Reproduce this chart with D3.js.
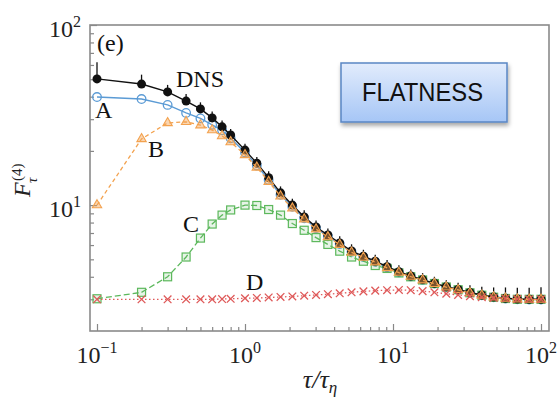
<!DOCTYPE html>
<html>
<head>
<meta charset="utf-8">
<script src="https://cdn.jsdelivr.net/npm/d3@7"></script>
<style>
  html, body { margin: 0; padding: 0; background: #fff; }
  svg { display: block; }
</style>
</head>
<body>
<svg id="chart" width="557" height="398"></svg>
<script>
// time lag tau / tau_eta
const tau = [0.1, 0.2, 0.3, 0.4, 0.5, 0.6, 0.7, 0.8, 1.0, 1.202, 1.445, 1.738, 2.089, 2.512,
  3.020, 3.631, 4.365, 5.248, 6.310, 7.586, 9.120, 10.96, 13.18, 15.85, 19.05, 22.91,
  27.54, 33.11, 39.81, 47.86, 57.54, 69.18, 83.18, 100];

// flatness F_tau^(4) for DNS and models A-D
const dns = [50.2, 47.0, 42.5, 37.8, 34.2, 30.5, 27.2, 24.5, 20.2, 17.1, 14.2, 11.7, 10.0, 8.6,
  7.56, 6.82, 6.16, 5.56, 5.2, 4.88, 4.55, 4.27, 4.04, 3.86, 3.68, 3.52, 3.40, 3.27, 3.17,
  3.09, 3.04, 3.01, 3.0, 3.0];
const dnsErr = [12, 6, 4, 3.6, 3.0, 2.6, 2.3, 2.0, 1.7, 1.4, 1.2, 1.0, 0.85, 0.75, 0.65, 0.6,
  0.55, 0.5, 0.45, 0.42, 0.4, 0.37, 0.35, 0.33, 0.32, 0.31, 0.31, 0.32, 0.35, 0.4, 0.45,
  0.47, 0.48, 0.5];
const modelA = [39.8, 38.8, 36.0, 32.5, 30.3, 27.9, 26.0, 23.5, 19.6, 16.6, 13.8, 11.4, 9.8, 8.45,
  7.45, 6.72, 6.08, 5.5, 5.15, 4.84, 4.50, 4.23, 4.02, 3.84, 3.67, 3.51, 3.39, 3.26, 3.16,
  3.08, 3.03, 3.0, 2.99, 2.99];
const modelB = [10.0, 23.3, 28.6, 29.0, 27.8, 26.1, 24.2, 22.4, 19.0, 16.2, 13.5, 11.2, 9.6, 8.35,
  7.35, 6.65, 6.03, 5.46, 5.12, 4.82, 4.48, 4.22, 4.01, 3.83, 3.66, 3.50, 3.38, 3.25, 3.15,
  3.08, 3.03, 3.0, 2.99, 2.99];
const modelC = [3.02, 3.28, 4.0, 5.15, 6.56, 7.85, 8.8, 9.4, 10.0, 9.95, 9.45, 8.8, 7.9, 7.25,
  6.6, 6.05, 5.55, 5.15, 4.88, 4.62, 4.45, 4.2, 4.0, 3.84, 3.67, 3.51, 3.39, 3.26, 3.16,
  3.08, 3.03, 3.0, 3.0, 3.0];
const modelD = [3.0, 3.0, 3.0, 3.0, 3.0, 3.0, 3.01, 3.02, 3.04, 3.05, 3.07, 3.09, 3.11, 3.14,
  3.17, 3.2, 3.24, 3.28, 3.32, 3.35, 3.37, 3.38, 3.37, 3.33, 3.28, 3.22, 3.17, 3.12, 3.08,
  3.05, 3.03, 3.01, 3.0, 3.0];

// axis ticks
const xMajorExp = [-1, 0, 1, 2];
const yMajorExp = [1, 2];
const xMinor = [0.2, 0.3, 0.4, 0.5, 0.6, 0.7, 0.8, 0.9, 2, 3, 4, 5, 6, 7, 8, 9,
  20, 30, 40, 50, 60, 70, 80, 90];
const yMinor = [3, 4, 5, 6, 7, 8, 9, 20, 30, 40, 50, 60, 70, 80, 90];

const svg = d3.select("#chart");
const frame = { left: 90, right: 549, top: 25, bottom: 331 };

const x = d3.scaleLog().domain([0.1, 100]).range([97, 541]);
const y = d3.scaleLog().domain([2, 100]).range([frame.bottom, frame.top]);

const serif = "'Liberation Serif', 'Times New Roman', serif";

// defs: box gradient and shadow
const defs = svg.append("defs");
const grad = defs.append("linearGradient").attr("id", "boxFill")
  .attr("x1", 0).attr("y1", 0).attr("x2", 0).attr("y2", 1);
grad.append("stop").attr("offset", "0%").attr("stop-color", "#e2ecfc");
grad.append("stop").attr("offset", "100%").attr("stop-color", "#a6c6f6");
const shadow = defs.append("filter").attr("id", "shadow")
  .attr("x", "-20%").attr("y", "-20%").attr("width", "140%").attr("height", "160%");
shadow.append("feDropShadow").attr("dx", 1).attr("dy", 3).attr("stdDeviation", 2)
  .attr("flood-color", "#000").attr("flood-opacity", 0.35);

// axes: ticks point inward
const tickStroke = "#888";
const xAxisMinor = d3.axisBottom(x).tickValues(xMinor).tickSize(-4).tickFormat("");
const xAxisMajor = d3.axisBottom(x).tickValues(xMajorExp.map(e => Math.pow(10, e))).tickSize(-7).tickFormat("");
const yAxisMinor = d3.axisLeft(y).tickValues(yMinor).tickSize(-4).tickFormat("");
const yAxisMajor = d3.axisLeft(y).tickValues(yMajorExp.map(e => Math.pow(10, e))).tickSize(-7).tickFormat("");

[xAxisMinor, xAxisMajor].forEach(ax => {
  const g = svg.append("g").attr("transform", `translate(0,${frame.bottom})`).call(ax);
  g.select(".domain").remove();
  g.selectAll("line").attr("stroke", tickStroke).attr("stroke-width", 1.2);
});
[yAxisMinor, yAxisMajor].forEach(ax => {
  const g = svg.append("g").attr("transform", `translate(${frame.left},0)`).call(ax);
  g.select(".domain").remove();
  g.selectAll("line").attr("stroke", tickStroke).attr("stroke-width", 1.2);
});

// frame
svg.append("rect")
  .attr("x", frame.left).attr("y", frame.top)
  .attr("width", frame.right - frame.left).attr("height", frame.bottom - frame.top)
  .attr("fill", "none").attr("stroke", "#8a8a8a").attr("stroke-width", 1.6);

// tick labels 10^n
xMajorExp.forEach(e => {
  const t = svg.append("text")
    .attr("x", x(Math.pow(10, e))).attr("y", 363)
    .attr("text-anchor", "middle")
    .attr("font-family", serif).attr("font-size", 24).attr("fill", "#222");
  t.append("tspan").text("10");
  t.append("tspan").attr("dy", -10).attr("font-size", 16).text(e < 0 ? "\u2212" + (-e) : String(e));
});
yMajorExp.forEach(e => {
  const t = svg.append("text")
    .attr("x", 81).attr("y", y(Math.pow(10, e)) + 12)
    .attr("text-anchor", "end")
    .attr("font-family", serif).attr("font-size", 24).attr("fill", "#222");
  t.append("tspan").text("10");
  t.append("tspan").attr("dy", -10).attr("font-size", 16).text(String(e));
});

// axis titles
const yTitle = svg.append("g").attr("transform", "translate(30,197) rotate(-90)");
yTitle.append("text").attr("x", 0).attr("y", 0)
  .attr("font-family", serif).attr("font-style", "italic").attr("font-size", 24)
  .attr("fill", "#222").text("F");
yTitle.append("text").attr("x", 14).attr("y", 7)
  .attr("font-family", serif).attr("font-style", "italic").attr("font-size", 15)
  .attr("fill", "#222").text("\u03c4");
yTitle.append("text").attr("x", 16).attr("y", -8)
  .attr("font-family", serif).attr("font-size", 15)
  .attr("fill", "#222").text("(4)");

const xTitle = svg.append("text").attr("x", 320).attr("y", 388)
  .attr("text-anchor", "middle")
  .attr("font-family", serif).attr("font-style", "italic").attr("font-size", 26).attr("fill", "#222");
xTitle.append("tspan").text("\u03c4/\u03c4");
xTitle.append("tspan").attr("dy", 5).attr("font-size", 17).text("\u03b7");

// series
const rows = tau.map((t, i) => ({ t, dns: dns[i], err: dnsErr[i], a: modelA[i], b: modelB[i], c: modelC[i], d: modelD[i] }));

function drawLine(key, color, dash, width) {
  svg.append("path").datum(rows)
    .attr("fill", "none").attr("stroke", color).attr("stroke-width", width)
    .attr("stroke-dasharray", dash)
    .attr("d", d3.line().x(r => x(r.t)).y(r => y(r[key])));
}

const cA = "#5b9bd5", cB = "#f3a24f", cC = "#5cb85c", cD = "#df5a5a";

// model A: blue open circles
drawLine("a", cA, null, 1.4);
svg.append("g").selectAll("circle").data(rows).join("circle")
  .attr("cx", r => x(r.t)).attr("cy", r => y(r.a)).attr("r", 4.3)
  .attr("fill", "none").attr("stroke", cA).attr("stroke-width", 1.3);

// model C: green squares, dashed
drawLine("c", cC, "6,3", 1.3);
svg.append("g").selectAll("rect").data(rows).join("rect")
  .attr("x", r => x(r.t) - 4).attr("y", r => y(r.c) - 4).attr("width", 8).attr("height", 8)
  .attr("fill", "rgba(92,184,92,0.15)").attr("stroke", cC).attr("stroke-width", 1.2);

// DNS: black filled circles with upper error bars
drawLine("dns", "#111", null, 1.4);
svg.append("g").selectAll("line").data(rows).join("line")
  .attr("x1", r => x(r.t)).attr("x2", r => x(r.t))
  .attr("y1", r => y(r.dns)).attr("y2", r => y(r.dns + r.err))
  .attr("stroke", "#111").attr("stroke-width", 1.3);
svg.append("g").selectAll("circle").data(rows).join("circle")
  .attr("cx", r => x(r.t)).attr("cy", r => y(r.dns)).attr("r", 4.5)
  .attr("fill", "#111");

// model B: orange triangles, dashed
drawLine("b", cB, "4,3", 1.3);
const tri = d3.symbol().type(d3.symbolTriangle).size(38);
svg.append("g").selectAll("path").data(rows).join("path")
  .attr("transform", r => `translate(${x(r.t)},${y(r.b)})`)
  .attr("d", tri)
  .attr("fill", "rgba(243,162,79,0.45)").attr("stroke", cB).attr("stroke-width", 1.1);

// model D: red crosses, dotted
drawLine("d", cD, "1.5,2.5", 1.3);
const cross = d3.symbol().type(d3.symbolX).size(40);
svg.append("g").selectAll("path").data(rows).join("path")
  .attr("transform", r => `translate(${x(r.t)},${y(r.d)})`)
  .attr("d", cross)
  .attr("fill", "none").attr("stroke", cD).attr("stroke-width", 1.3);

// annotations
const ann = [
  { text: "(e)", x: 97, y: 51 },
  { text: "DNS", x: 176, y: 87 },
  { text: "A", x: 95, y: 118 },
  { text: "B", x: 148, y: 157 },
  { text: "C", x: 183, y: 232 },
  { text: "D", x: 246, y: 290 }
];
svg.append("g").selectAll("text").data(ann).join("text")
  .attr("x", d => d.x).attr("y", d => d.y)
  .attr("font-family", serif).attr("font-size", 24).attr("fill", "#111")
  .text(d => d.text);

// FLATNESS label box
svg.append("rect")
  .attr("x", 341).attr("y", 63).attr("width", 166).attr("height", 59)
  .attr("fill", "url(#boxFill)").attr("stroke", "#5a86c4").attr("stroke-width", 1.5)
  .attr("filter", "url(#shadow)");
svg.append("text")
  .attr("x", 362).attr("y", 101)
  .attr("font-family", "'Liberation Sans', Arial, sans-serif").attr("font-size", 25)
  .attr("textLength", 121).attr("lengthAdjust", "spacingAndGlyphs")
  .attr("fill", "#111").text("FLATNESS");
</script>
</body>
</html>
